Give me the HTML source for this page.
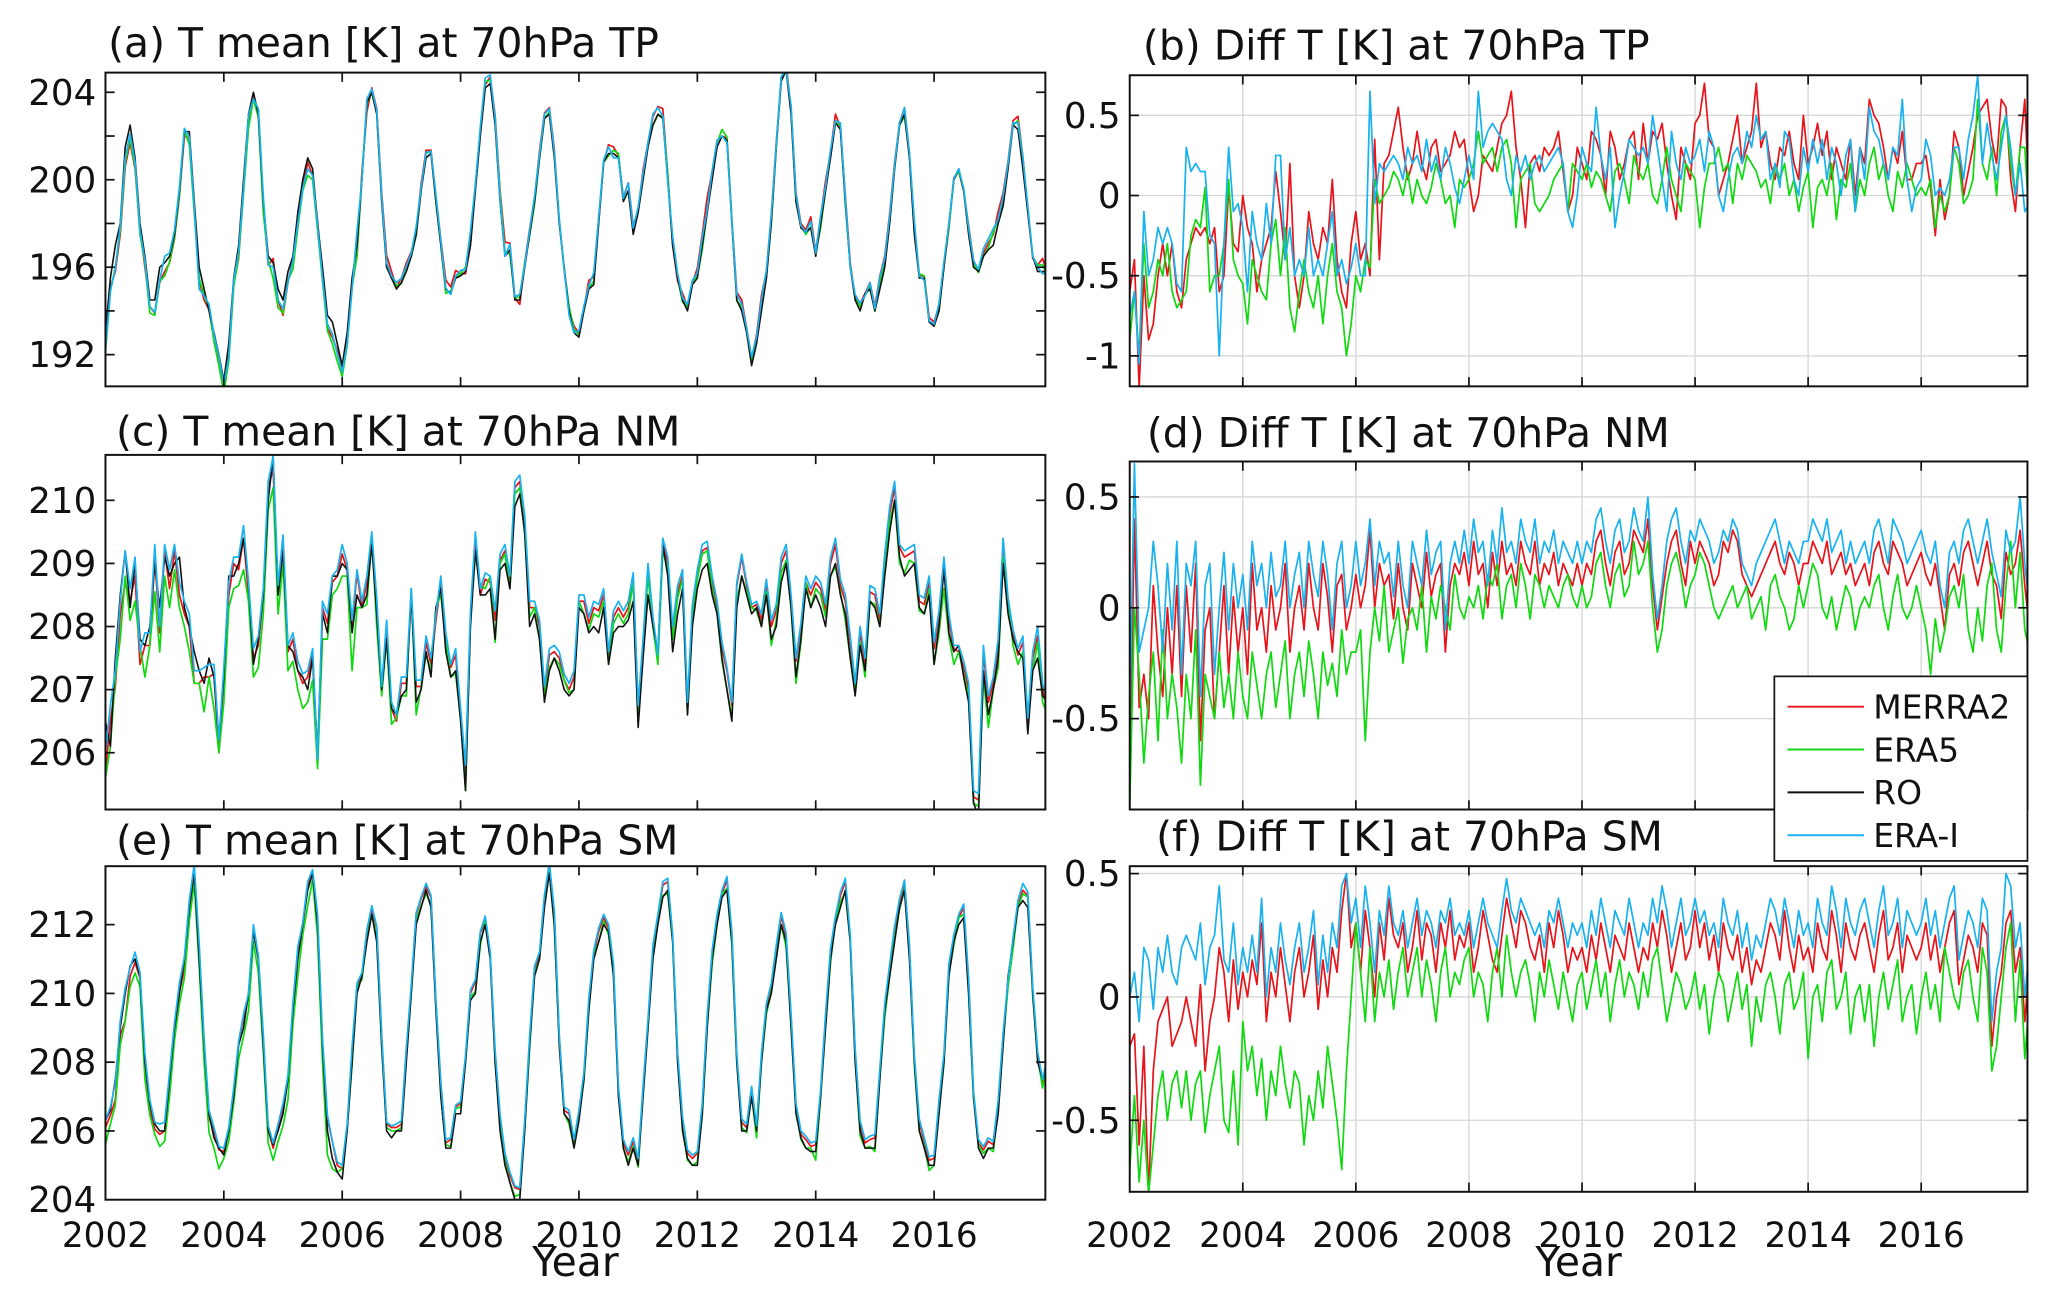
<!DOCTYPE html>
<html><head><meta charset="utf-8"><style>
html,body{margin:0;padding:0;background:#fff;}
svg{display:block;font-family:"DejaVu Sans","Liberation Sans",sans-serif;}
</style></head><body>
<svg id="fig" width="2067" height="1300" viewBox="0 0 1568 986" xmlns="http://www.w3.org/2000/svg"></svg>
<script>
const years = [2002,2004,2006,2008,2010,2012,2014,2016];
const seriesNames = ["MERRA2","ERA5","RO","ERA-I"];
const roTP = [
193.0,195.5,197.0,198.0,201.5,202.5,201.0,198.0,196.5,194.5,194.5,196.0,
196.2,196.5,197.5,199.5,202.2,202.2,199.0,196.0,195.0,194.0,193.0,192.0,
190.8,192.5,195.5,197.0,200.0,203.0,204.0,203.0,199.0,196.5,196.2,195.0,
194.5,195.8,196.5,198.5,200.0,201.0,200.5,198.0,196.0,193.8,193.5,192.5,
191.5,193.0,195.5,197.0,200.0,203.5,204.0,203.0,199.0,196.0,195.5,195.0,
195.3,195.8,196.5,197.5,199.5,201.0,201.2,199.0,197.0,195.0,194.8,195.5,
195.6,195.8,197.0,199.5,202.0,204.2,204.4,202.5,199.0,196.5,196.8,194.5,
194.5,196.0,197.5,199.0,201.0,202.8,203.0,201.0,198.0,196.0,194.0,193.0,
192.8,194.0,195.0,195.2,198.0,200.8,201.2,201.2,201.0,199.0,199.5,197.5,
198.5,200.0,201.5,202.5,203.0,202.8,200.0,197.0,195.5,194.5,194.0,195.2,
195.5,197.0,198.5,200.0,201.5,202.0,201.8,198.0,194.5,194.0,193.0,191.5,
192.5,194.0,195.5,198.0,201.5,204.5,205.0,203.0,199.0,197.8,197.6,197.8,
196.5,198.0,199.5,201.0,202.6,202.3,199.0,196.0,194.5,194.0,194.8,195.0,
194.0,195.0,196.0,198.0,200.5,202.5,203.0,201.0,197.5,195.5,195.5,193.5,
193.3,194.0,196.0,198.0,200.0,200.5,199.5,197.5,196.0,195.8,196.5,196.8,
197.0,198.0,198.8,200.5,202.5,202.3,200.5,198.5,196.5,195.8,195.8,195.8];
const merraTP = [
-0.6,-0.4,-1.2,-0.5,-0.9,-0.8,-0.5,-0.3,-0.5,-0.3,-0.6,-0.7,
-0.4,-0.3,-0.2,-0.25,-0.2,-0.3,-0.2,-0.6,-0.5,0.05,-0.3,-0.35,
0.0,-0.2,-0.3,-0.6,-0.4,-0.3,-0.2,0.15,-0.1,-0.4,0.2,-0.5,
-0.7,-0.5,-0.1,-0.3,-0.4,-0.2,-0.3,0.1,-0.4,-0.6,-0.7,-0.3,
-0.1,-0.4,-0.3,-0.5,0.35,-0.4,0.2,0.25,0.4,0.55,0.3,0.1,
0.2,0.4,0.2,0.1,0.3,0.35,0.15,0.2,0.25,0.4,0.3,0.35,
0.1,-0.1,0.0,0.25,0.2,0.15,0.3,0.45,0.5,0.65,0.3,0.1,
-0.2,0.2,0.25,0.15,0.3,0.25,0.3,0.4,0.15,-0.1,0.0,0.3,
0.2,0.1,0.4,0.35,0.25,0.0,0.4,0.3,0.1,0.2,0.35,0.4,
0.1,0.45,0.2,0.4,0.35,0.45,0.2,0.0,-0.15,0.3,0.2,0.1,
0.45,0.5,0.7,0.35,0.3,0.0,0.1,0.2,0.35,0.5,0.2,0.3,
0.4,0.7,0.3,0.4,0.2,0.1,0.3,0.25,0.4,0.2,0.1,0.5,
0.2,0.3,0.45,0.25,0.4,0.1,0.3,0.2,0.1,0.35,0.0,0.3,
0.2,0.6,0.5,0.45,0.3,0.1,0.3,0.2,0.4,0.1,0.1,0.2,
0.2,0.25,0.05,-0.25,0.1,-0.15,0.0,0.4,0.3,0.0,0.15,0.3,
0.5,0.55,0.6,0.35,0.2,0.6,0.55,0.1,-0.1,0.3,0.6,-0.1];
const era5TP = [
-0.9,-0.6,-1.0,-0.3,-0.7,-0.6,-0.4,-0.5,-0.3,-0.6,-0.7,-0.65,
-0.6,-0.25,-0.15,-0.2,0.05,-0.6,-0.5,-0.5,-0.3,0.1,-0.4,-0.5,
-0.55,-0.8,-0.4,-0.5,-0.6,-0.65,-0.3,-0.15,-0.5,-0.2,-0.7,-0.85,
-0.6,-0.4,-0.6,-0.7,-0.5,-0.8,-0.5,-0.3,-0.6,-0.7,-1.0,-0.8,
-0.5,-0.6,-0.4,-0.45,0.1,-0.05,0.0,0.05,0.15,0.1,0.0,0.15,
-0.05,0.1,0.0,-0.05,0.05,0.2,0.1,-0.05,0.0,-0.2,0.1,0.05,
0.1,0.2,0.4,0.2,0.25,0.3,0.15,0.3,0.35,0.2,-0.2,0.1,
0.15,0.2,-0.05,-0.1,-0.05,0.0,0.1,0.15,0.2,-0.1,0.2,0.15,
0.1,0.2,0.05,0.15,0.1,0.0,-0.1,0.15,0.2,0.1,-0.05,0.25,
0.15,0.1,0.2,0.0,-0.05,0.1,0.3,0.1,0.0,-0.1,0.2,0.15,
0.1,-0.2,0.05,0.2,0.2,0.3,0.15,0.2,-0.05,0.2,0.1,0.25,
0.2,0.15,0.05,0.1,-0.05,0.2,0.1,0.2,0.0,0.1,-0.1,0.05,
0.15,-0.2,0.05,0.1,0.0,0.2,-0.15,0.1,0.05,0.2,-0.1,0.1,
0.0,0.2,0.3,0.1,0.2,0.0,-0.1,0.15,0.05,0.2,0.1,0.0,
0.05,0.0,0.1,-0.2,0.0,-0.1,0.0,0.3,0.2,-0.05,0.0,0.1,
0.6,0.2,0.1,0.3,0.0,0.4,0.5,0.2,0.0,0.3,0.3,-0.2];
const eraiTP = [
-0.75,-0.6,-1.05,-0.1,-0.5,-0.4,-0.2,-0.3,-0.2,-0.3,-0.55,-0.6,
0.3,0.15,0.2,0.15,0.15,-0.25,-0.3,-1.0,-0.3,0.3,-0.1,-0.05,
-0.2,-0.6,-0.1,-0.3,-0.4,-0.05,-0.3,0.25,0.25,-0.4,-0.2,-0.5,
-0.4,-0.5,-0.2,-0.5,-0.4,-0.5,-0.3,-0.1,-0.5,-0.4,-0.55,-0.45,
-0.3,-0.5,-0.5,0.65,-0.05,0.2,0.15,0.2,0.25,0.2,0.1,0.3,
0.2,0.25,0.15,0.35,0.15,0.25,0.1,0.3,0.2,0.05,-0.05,0.1,
0.25,0.1,0.65,0.3,0.4,0.45,0.4,0.35,0.1,0.0,0.25,0.15,
0.25,0.1,0.2,0.25,0.15,0.2,0.25,0.3,0.2,-0.1,-0.2,0.0,
0.3,0.2,0.15,0.55,0.25,0.1,0.3,-0.2,0.0,0.15,0.35,0.3,
0.25,0.3,0.2,0.5,0.3,0.1,-0.1,0.4,0.2,0.1,0.3,0.2,
0.25,0.35,0.15,0.4,0.3,0.0,-0.1,0.1,0.25,0.3,0.2,0.4,
0.3,0.5,0.35,0.4,0.1,0.2,0.05,0.4,0.35,0.1,0.0,0.3,
0.15,0.35,0.2,0.35,0.1,0.3,0.2,0.0,0.25,0.35,-0.1,0.3,
0.1,0.55,0.4,0.35,0.2,0.1,0.3,0.25,0.6,0.1,-0.1,0.05,
0.1,0.35,0.25,0.0,0.05,0.0,0.1,0.3,0.3,0.1,0.35,0.5,
0.75,0.2,0.45,0.25,0.1,0.3,0.5,0.3,0.0,0.2,-0.1,-0.05];
const roNM = [
206.5,206.1,207.5,208.5,209.2,208.3,209.0,207.8,207.7,208.0,209.0,208.3,
209.1,208.8,209.0,209.1,208.3,208.0,207.6,207.3,207.1,207.5,207.2,206.2,
207.2,208.8,208.8,209.0,209.4,208.7,207.4,207.8,208.5,210.0,210.7,208.5,
209.2,207.7,207.6,207.3,207.2,207.0,207.5,206.0,208.2,207.9,208.8,208.8,
209.0,208.9,207.9,208.5,208.3,208.5,209.3,208.2,207.0,207.8,206.7,206.6,
206.9,207.0,208.5,206.8,207.0,207.6,207.2,208.3,208.6,207.6,207.2,207.3,
206.5,205.4,208.0,209.2,208.5,208.5,208.6,207.8,208.9,209.0,208.6,209.9,
210.1,209.5,208.0,208.2,207.8,206.8,207.3,207.5,207.3,207.0,206.9,207.0,
208.3,208.2,207.9,208.0,207.9,208.3,207.4,207.9,208.0,208.0,208.1,208.4,
206.4,207.5,208.5,208.0,207.6,209.3,208.8,207.6,208.2,208.6,206.6,208.0,
208.6,208.9,209.0,208.5,208.2,207.5,207.0,206.5,208.3,208.8,208.5,208.2,
208.3,208.0,208.5,207.8,208.0,208.7,209.0,208.3,207.2,207.8,208.6,208.3,
208.5,208.3,208.0,208.8,209.0,208.5,208.2,207.5,206.9,207.7,207.3,208.4,
208.3,208.0,208.8,209.5,210.0,209.1,208.8,208.9,209.0,208.3,208.2,208.5,
207.4,208.0,208.9,207.9,207.6,207.7,207.2,206.8,205.2,205.0,207.3,206.6,
207.0,207.5,209.0,208.2,207.8,207.6,207.5,206.3,207.3,207.5,206.9,206.8];
const merraNM = [
-0.8,0.4,-0.45,-0.3,-0.5,0.1,-0.2,-0.4,0.0,-0.3,0.1,-0.4,
0.1,-0.2,0.2,-0.6,-0.1,0.0,-0.5,-0.2,0.1,-0.3,0.05,-0.2,
0.0,-0.3,0.2,-0.1,0.0,-0.2,0.1,-0.1,0.0,0.2,-0.2,0.0,
0.1,-0.1,0.2,0.0,-0.1,0.2,0.05,-0.2,0.1,0.15,-0.1,0.0,
0.15,0.0,0.1,0.35,0.0,0.2,0.1,0.15,-0.05,0.2,0.0,-0.1,
0.2,0.1,0.0,0.25,0.05,0.15,0.2,-0.2,0.1,0.2,0.15,0.25,
0.1,0.3,0.15,0.2,0.0,0.25,0.1,0.3,0.15,0.2,0.1,0.3,
0.2,0.15,0.3,0.1,0.2,0.15,0.25,0.1,0.2,0.15,0.1,0.2,
0.1,0.2,0.15,0.3,0.35,0.2,0.1,0.25,0.3,0.15,0.2,0.35,
0.3,0.25,0.4,0.1,-0.1,0.05,0.2,0.3,0.35,0.2,0.1,0.3,
0.2,0.3,0.25,0.2,0.1,0.15,0.3,0.25,0.35,0.3,0.15,0.1,
0.05,0.1,0.15,0.2,0.25,0.3,0.2,0.15,0.25,0.2,0.1,0.2,
0.2,0.3,0.25,0.2,0.3,0.15,0.2,0.25,0.15,0.2,0.1,0.15,
0.2,0.1,0.25,0.3,0.2,0.15,0.3,0.25,0.2,0.1,0.15,0.2,
0.25,0.15,0.1,0.2,0.05,-0.1,0.15,0.2,0.1,0.25,0.3,0.2,
0.1,0.2,0.3,0.15,0.1,-0.05,0.25,0.15,0.2,0.35,0.1,-0.1];
const era5NM = [
-0.9,0.0,-0.3,-0.7,-0.4,-0.2,-0.6,-0.1,-0.5,-0.3,-0.45,-0.7,
-0.3,-0.5,-0.1,-0.8,-0.3,-0.4,-0.5,-0.2,-0.45,-0.3,-0.5,-0.2,
-0.4,-0.5,-0.2,-0.35,-0.5,-0.3,-0.2,-0.45,-0.3,-0.15,-0.5,-0.3,
-0.2,-0.4,-0.15,-0.3,-0.5,-0.2,-0.35,-0.25,-0.4,-0.1,-0.3,-0.2,
-0.2,-0.1,-0.6,-0.2,0.0,-0.15,0.1,-0.2,-0.1,0.0,-0.25,-0.05,
0.0,-0.1,0.1,-0.2,0.05,-0.05,0.1,0.0,-0.1,0.15,0.0,-0.05,
0.05,0.0,0.1,-0.05,0.15,0.1,0.2,-0.05,0.1,0.15,0.0,0.2,
0.1,-0.05,0.15,0.1,0.0,0.1,0.05,0.0,0.1,0.15,0.05,0.0,
0.1,0.0,0.05,0.2,0.25,0.1,0.0,0.15,0.2,0.05,0.1,0.3,
0.15,0.2,0.3,0.0,-0.2,-0.1,0.1,0.2,0.25,0.15,0.0,0.1,
0.15,0.25,0.2,0.1,0.0,-0.05,0.0,0.05,0.1,0.0,0.05,0.1,
-0.05,0.0,0.05,-0.1,0.1,0.15,0.05,0.0,-0.1,-0.05,0.1,0.0,
0.1,0.2,0.15,0.0,-0.05,0.05,-0.1,0.0,0.1,0.05,-0.1,0.0,
0.05,0.0,0.1,0.15,0.0,-0.1,0.05,0.15,0.0,-0.05,0.0,0.1,
0.0,-0.1,-0.3,-0.05,-0.2,-0.1,0.05,0.1,0.0,0.15,-0.1,-0.2,
0.0,-0.15,0.1,0.2,-0.1,-0.2,0.1,0.3,0.0,0.25,-0.1,-0.2];
const eraiNM = [
-0.5,0.65,-0.2,-0.1,0.0,0.3,0.1,-0.2,0.2,-0.1,0.3,-0.3,
0.2,0.1,0.3,-0.4,0.1,0.2,-0.3,0.0,0.25,-0.1,0.2,0.0,
0.15,-0.1,0.3,0.1,0.2,0.0,0.25,0.05,0.1,0.3,0.0,0.15,
0.25,0.0,0.3,0.15,0.05,0.3,0.15,-0.1,0.2,0.3,0.0,0.1,
0.3,0.1,0.2,0.4,0.1,0.3,0.2,0.25,0.05,0.3,0.1,0.0,
0.3,0.2,0.1,0.35,0.15,0.25,0.3,-0.1,0.2,0.3,0.2,0.35,
0.2,0.4,0.25,0.3,0.1,0.35,0.2,0.45,0.25,0.3,0.2,0.4,
0.3,0.25,0.4,0.2,0.3,0.25,0.35,0.2,0.3,0.25,0.2,0.3,
0.2,0.3,0.25,0.4,0.45,0.3,0.2,0.35,0.4,0.25,0.3,0.45,
0.35,0.3,0.5,0.15,-0.05,0.1,0.3,0.4,0.45,0.3,0.2,0.35,
0.3,0.4,0.35,0.3,0.2,0.25,0.35,0.3,0.4,0.35,0.2,0.15,
0.1,0.2,0.25,0.3,0.35,0.4,0.3,0.2,0.3,0.25,0.2,0.3,
0.3,0.4,0.35,0.3,0.4,0.25,0.3,0.35,0.2,0.3,0.2,0.25,
0.3,0.2,0.35,0.4,0.3,0.2,0.4,0.35,0.3,0.2,0.25,0.3,
0.35,0.25,0.2,0.3,0.1,0.0,0.25,0.3,0.2,0.35,0.4,0.3,
0.2,0.3,0.4,0.25,0.15,0.05,0.35,0.25,0.3,0.5,0.2,0.0];
const roSM = [
206.3,206.6,207.5,209.0,210.0,210.8,211.0,210.5,208.0,206.8,206.2,206.0,
206.0,207.5,209.0,210.0,211.0,212.5,213.5,211.0,208.5,206.5,205.8,205.5,
205.3,206.0,207.0,208.5,209.0,210.0,211.8,211.0,208.5,206.0,205.6,206.0,
206.5,207.5,209.5,211.0,212.0,213.0,213.5,212.0,208.5,206.0,205.2,204.8,
204.6,206.0,208.0,210.0,210.5,211.5,212.3,211.5,208.5,206.0,205.8,206.0,
206.0,208.0,210.0,212.0,212.5,213.0,212.5,209.5,207.0,205.5,205.5,206.5,
206.5,208.0,209.8,210.0,211.5,212.0,211.0,208.0,206.0,205.0,204.5,204.0,
204.0,206.0,208.5,210.5,211.0,212.5,213.5,212.0,208.5,206.5,206.3,205.5,
206.3,207.5,209.5,211.0,211.5,212.0,211.8,210.5,207.0,205.5,205.0,205.5,
205.0,207.0,209.0,211.0,212.0,212.8,213.0,211.5,208.0,206.0,205.2,205.0,
205.0,206.5,209.0,211.0,212.0,212.8,213.0,211.5,208.0,206.0,206.0,207.0,
206.0,208.0,209.5,210.0,211.0,212.0,211.5,209.0,206.5,205.8,205.5,205.4,
205.4,207.0,209.0,211.0,212.0,212.5,213.0,211.5,208.0,206.0,205.5,205.5,
205.5,207.5,209.5,210.5,211.5,212.5,213.0,211.0,208.0,206.0,205.5,205.0,
205.0,206.5,208.0,210.5,211.5,212.0,212.2,210.0,207.0,205.5,205.2,205.5,
205.5,206.5,208.5,210.5,211.5,212.5,212.7,212.5,210.0,208.0,207.5,208.0];
const merraSM = [
-0.2,-0.15,-0.6,-0.2,-0.8,-0.3,-0.1,-0.05,0.0,-0.2,-0.15,-0.1,
0.0,-0.1,-0.2,0.05,-0.3,-0.1,0.0,0.2,0.1,-0.1,0.15,-0.05,
0.1,0.0,0.15,0.05,0.3,-0.1,0.1,0.0,0.2,0.05,-0.1,0.1,
0.2,0.0,0.1,0.25,-0.05,0.15,0.0,0.2,0.1,0.35,0.5,0.2,
0.3,0.1,0.35,0.2,0.0,0.3,0.15,0.4,0.25,0.2,0.3,0.1,
0.2,0.35,0.15,0.3,0.25,0.1,0.3,0.2,0.35,0.15,0.25,0.2,
0.3,0.1,0.2,0.35,0.25,0.15,0.1,0.25,0.4,0.3,0.2,0.35,
0.3,0.2,0.15,0.25,0.1,0.3,0.2,0.35,0.25,0.1,0.2,0.15,
0.2,0.1,0.25,0.15,0.3,0.2,0.1,0.25,0.2,0.15,0.3,0.2,
0.1,0.2,0.15,0.3,0.2,0.35,0.25,0.1,0.2,0.3,0.15,0.2,
0.35,0.2,0.3,0.15,0.25,0.1,0.3,0.2,0.15,0.25,0.1,0.2,
0.05,0.15,0.1,0.2,0.3,0.25,0.15,0.35,0.2,0.1,0.25,0.15,
0.2,0.1,0.3,0.2,0.15,0.35,0.25,0.1,0.3,0.2,0.15,0.25,
0.3,0.2,0.1,0.25,0.35,0.15,0.2,0.3,0.1,0.25,0.2,0.15,
0.2,0.3,0.15,0.25,0.1,0.2,0.3,0.35,0.05,0.15,0.25,0.2,
0.1,0.3,0.25,-0.2,0.0,0.1,0.3,0.35,0.1,0.2,-0.1,0.15];
const era5SM = [
-0.7,-0.4,-0.75,-0.5,-0.8,-0.6,-0.4,-0.3,-0.5,-0.35,-0.3,-0.45,
-0.3,-0.5,-0.35,-0.3,-0.55,-0.4,-0.3,-0.2,-0.5,-0.55,-0.3,-0.6,
-0.1,-0.3,-0.2,-0.4,-0.25,-0.5,-0.3,-0.4,-0.2,-0.35,-0.45,-0.3,
-0.35,-0.6,-0.4,-0.5,-0.3,-0.45,-0.2,-0.35,-0.5,-0.7,-0.3,0.0,
0.3,0.1,-0.1,0.2,-0.1,0.1,0.0,0.15,-0.05,0.1,0.2,0.0,
0.1,0.2,0.0,0.15,0.05,-0.1,0.1,0.2,0.0,0.1,0.05,0.15,
0.2,0.0,0.1,0.05,-0.1,0.1,0.2,0.0,0.25,0.1,0.0,0.1,
0.15,0.05,-0.1,0.1,0.0,0.15,0.05,-0.05,0.1,0.0,-0.1,0.05,
0.1,-0.05,0.05,0.15,0.0,0.1,-0.1,0.05,0.15,0.0,0.1,0.05,
-0.05,0.1,0.0,0.15,0.2,0.05,-0.1,0.0,0.1,0.05,-0.05,0.0,
0.1,-0.05,0.05,-0.15,0.0,0.1,0.05,-0.1,0.0,0.1,-0.05,0.05,
-0.2,0.0,-0.1,0.05,0.1,0.0,-0.15,0.05,0.1,-0.05,0.0,0.1,
-0.25,0.0,0.05,-0.1,0.1,0.15,-0.05,0.0,0.1,-0.15,0.0,0.05,
-0.1,0.05,-0.2,0.0,0.1,-0.05,0.05,0.15,-0.1,0.0,0.05,-0.15,
0.0,0.1,-0.05,0.05,-0.1,0.2,0.1,0.0,-0.05,0.1,0.15,0.0,
-0.1,0.2,0.1,-0.3,-0.2,0.0,0.2,0.3,-0.1,0.15,-0.25,0.0];
const eraiSM = [
0.0,0.1,-0.1,0.2,0.15,-0.05,0.2,0.1,0.25,0.1,0.05,0.2,
0.25,0.2,0.15,0.3,0.05,0.2,0.25,0.45,0.15,0.1,0.3,0.05,
0.2,0.1,0.25,0.1,0.4,0.0,0.2,0.1,0.3,0.15,0.05,0.2,
0.3,0.1,0.2,0.35,0.05,0.25,0.1,0.3,0.2,0.45,0.5,0.3,
0.4,0.2,0.45,0.3,0.1,0.35,0.25,0.45,0.3,0.25,0.35,0.2,
0.3,0.4,0.25,0.35,0.3,0.2,0.35,0.3,0.4,0.25,0.3,0.25,
0.35,0.2,0.3,0.4,0.3,0.25,0.2,0.35,0.48,0.35,0.3,0.4,
0.35,0.3,0.25,0.3,0.2,0.35,0.3,0.4,0.3,0.2,0.3,0.25,
0.3,0.2,0.35,0.25,0.4,0.3,0.2,0.35,0.3,0.25,0.4,0.3,
0.2,0.3,0.25,0.4,0.3,0.45,0.35,0.2,0.3,0.4,0.25,0.3,
0.4,0.3,0.35,0.25,0.3,0.2,0.4,0.3,0.25,0.35,0.2,0.3,
0.15,0.25,0.2,0.3,0.4,0.35,0.25,0.4,0.3,0.2,0.35,0.25,
0.3,0.2,0.4,0.3,0.25,0.45,0.35,0.2,0.4,0.3,0.25,0.35,
0.4,0.3,0.2,0.35,0.45,0.25,0.3,0.4,0.2,0.35,0.3,0.25,
0.3,0.4,0.25,0.35,0.2,0.3,0.4,0.45,0.15,0.25,0.35,0.3,
0.2,0.4,0.35,-0.1,0.1,0.2,0.5,0.45,0.2,0.3,0.0,0.2];

const NS="http://www.w3.org/2000/svg";
const svg=document.getElementById('fig');
const COLORS={MERRA2:"#e8141a",ERA5:"#12d812",RO:"#111",ERAI:"#1ab2ee"};
function mk(tag,attrs,parent){const e=document.createElementNS(NS,tag);for(const k in attrs)e.setAttribute(k,attrs[k]);(parent||svg).appendChild(e);return e;}
function txt(s,x,y,size,anchor,parent){const t=mk('text',{x:x,y:y,'font-size':size,'text-anchor':anchor||'start',fill:'#111'},parent);t.textContent=s;return t;}

function panel(cfg){
  const g=mk('g',{});
  
  
  const X0=2002,X1=2017.88;
  const sx=v=>cfg.x0+(v-X0)/(X1-X0)*(cfg.x1-cfg.x0);
  const sy=v=>cfg.y1-(v-cfg.ymin)/(cfg.ymax-cfg.ymin)*(cfg.y1-cfg.y0);
  const clip='clip-'+cfg.name;
  const cp=mk('clipPath',{id:clip},g);mk('rect',{x:cfg.x0,y:cfg.y0,width:cfg.x1-cfg.x0,height:cfg.y1-cfg.y0},cp);
  mk('rect',{x:cfg.x0,y:cfg.y0,width:cfg.x1-cfg.x0,height:cfg.y1-cfg.y0,fill:'#fff'},g);
  if(cfg.grid){
    years.forEach(yr=>{const l=mk('line',{x1:sx(yr),x2:sx(yr),y1:cfg.y0,y2:cfg.y1,stroke:'#d6d6d6','stroke-width':1},g);
      
      });
    cfg.yticks.forEach(v=>{const l=mk('line',{x1:cfg.x0,x2:cfg.x1,y1:sy(v),y2:sy(v),stroke:'#d6d6d6','stroke-width':1},g);
      
      });
  }
  const dg=mk('g',{'clip-path':'url(#'+clip+')'},g);
  cfg.series.forEach(s=>{
    let d='';s.vals.forEach((v,i)=>{d+=(i?'L':'M')+sx(X0+i/12).toFixed(2)+','+sy(v).toFixed(2);});
    const p=mk('path',{d:d,fill:'none',stroke:s.color,'stroke-width':s.w||1.3,'stroke-linejoin':'round'},dg);
    
    
  });
  const box=mk('rect',{x:cfg.x0,y:cfg.y0,width:cfg.x1-cfg.x0,height:cfg.y1-cfg.y0,fill:'none',stroke:'#111','stroke-width':1.5},g);
  
  
  const tl=7;
  years.forEach(yr=>{if(yr===2002)return;const x=sx(yr);
    mk('line',{x1:x,x2:x,y1:cfg.y1,y2:cfg.y1-tl,stroke:'#111','stroke-width':1.3},g);
    mk('line',{x1:x,x2:x,y1:cfg.y0,y2:cfg.y0+tl,stroke:'#111','stroke-width':1.3},g);});
  (cfg.minorY||cfg.yticks).forEach(v=>{const y=sy(v);if(y<cfg.y0+1||y>cfg.y1-1)return;
    mk('line',{x1:cfg.x0,x2:cfg.x0+tl,y1:y,y2:y,stroke:'#111','stroke-width':1.3},g);
    mk('line',{x1:cfg.x1,x2:cfg.x1-tl,y1:y,y2:y,stroke:'#111','stroke-width':1.3},g);});
  const yl=mk('g',{},g);
  
  
  cfg.yticks.forEach((v,i)=>{txt(cfg.ylabels[i],cfg.x0-7,sy(v)+9.5,27,'end',yl);});
  if(cfg.xlabels){
    const xl=mk('g',{},g);
    
    
    years.forEach(yr=>{txt(String(yr),sx(yr),946,26,'middle',xl);});
    const yt=txt('Year',(cfg.x0+cfg.x1)/2,968,31,'middle',g);
    
    
  }
  const t=txt(cfg.title,cfg.tx,cfg.ty,31,'start',g);
  
  
  return g;
}
const add=(a,b)=>a.map((v,i)=>+(v+b[i]).toFixed(3));
function leftSeries(ro,m,e,ei){return [
 {key:'merra2',color:COLORS.MERRA2,vals:add(ro,m)},
 {key:'era5',color:COLORS.ERA5,vals:add(ro,e)},
 {key:'ro',color:COLORS.RO,vals:ro,w:1.2},
 {key:'era-i',color:COLORS.ERAI,vals:add(ro,ei)}];}
function rightSeries(m,e,ei){return [
 {key:'merra2',color:COLORS.MERRA2,vals:m},
 {key:'era5',color:COLORS.ERA5,vals:e},
 {key:'era-i',color:COLORS.ERAI,vals:ei}];}

panel({name:'panel-a-tmean-tp',x0:80,x1:793,y0:55,y1:293,ymin:190.55,ymax:204.9,yticks:[192,196,200,204],ylabels:['192','196','200','204'],minorY:[192,194,196,198,200,202,204],title:'(a) T mean [K] at 70hPa TP',tx:82,ty:43,series:leftSeries(roTP,merraTP,era5TP,eraiTP)});
panel({name:'panel-b-diff-tp',x0:857,x1:1538,y0:57,y1:293,ymin:-1.19,ymax:0.75,grid:true,yticks:[-1,-0.5,0,0.5],ylabels:['-1','-0.5','0','0.5'],title:'(b) Diff T [K] at 70hPa TP',tx:867,ty:45,series:rightSeries(merraTP,era5TP,eraiTP)});
panel({name:'panel-c-tmean-nm',x0:80,x1:793,y0:345,y1:614,ymin:205.1,ymax:210.72,yticks:[206,207,208,209,210],ylabels:['206','207','208','209','210'],title:'(c) T mean [K] at 70hPa NM',tx:88,ty:338,series:leftSeries(roNM,merraNM,era5NM,eraiNM)});
panel({name:'panel-d-diff-nm',x0:857,x1:1538,y0:350,y1:614,ymin:-0.91,ymax:0.66,grid:true,yticks:[-0.5,0,0.5],ylabels:['-0.5','0','0.5'],title:'(d) Diff T [K] at 70hPa NM',tx:870,ty:339,series:rightSeries(merraNM,era5NM,eraiNM)});
panel({name:'panel-e-tmean-sm',x0:80,x1:793,y0:657,y1:910,ymin:204,ymax:213.7,yticks:[204,206,208,210,212],ylabels:['204','206','208','210','212'],title:'(e) T mean [K] at 70hPa SM',tx:88,ty:648,xlabels:true,series:leftSeries(roSM,merraSM,era5SM,eraiSM)});
panel({name:'panel-f-diff-sm',x0:857,x1:1538,y0:657,y1:904,ymin:-0.79,ymax:0.53,grid:true,yticks:[-0.5,0,0.5],ylabels:['-0.5','0','0.5'],title:'(f) Diff T [K] at 70hPa SM',tx:877,ty:645,xlabels:true,series:rightSeries(merraSM,era5SM,eraiSM)});

const lg=mk('g',{});


mk('rect',{x:1346,y:513,width:192,height:140,fill:'#fff',stroke:'#111','stroke-width':1.3},lg);
const legCols=[COLORS.MERRA2,COLORS.ERA5,COLORS.RO,COLORS.ERAI];
seriesNames.forEach((n,i)=>{
  const y=536+i*32.5;
  const e=mk('g',{},lg);
  
  
  mk('line',{x1:1356,x2:1414,y1:y,y2:y,stroke:legCols[i],'stroke-width':1.5},e);
  txt(n,1421,y+9,25,'start',e);
});
</script>
</body></html>
